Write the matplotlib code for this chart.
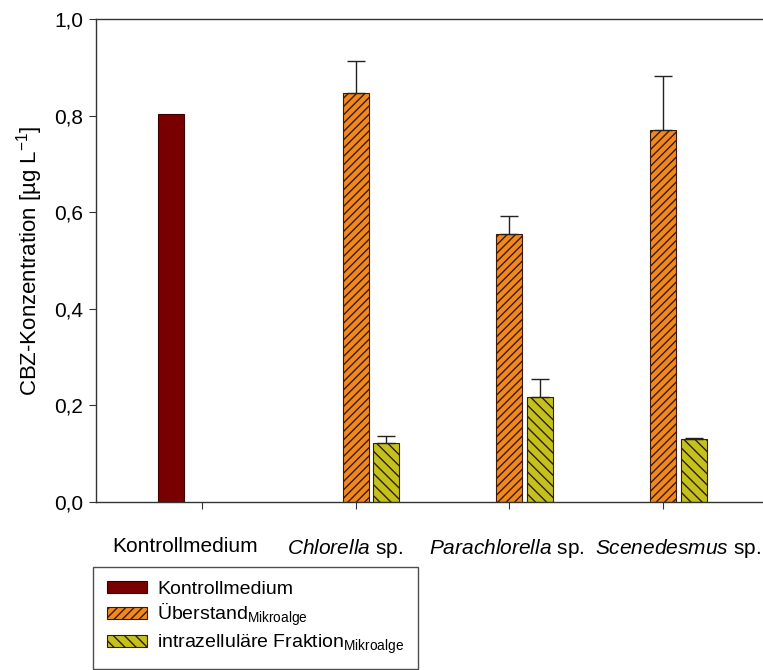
import matplotlib
matplotlib.use("Agg")
import matplotlib.pyplot as plt
import matplotlib.transforms as mtransforms
import numpy as np

plt.rcParams['font.family'] = ['Liberation Sans', 'DejaVu Sans']
plt.rcParams['mathtext.fontset'] = 'custom'
plt.rcParams['mathtext.rm'] = 'Liberation Sans'
plt.rcParams['mathtext.it'] = 'Liberation Sans:italic'
plt.rcParams['mathtext.bf'] = 'Liberation Sans:bold'
plt.rcParams['mathtext.default'] = 'regular'
plt.rcParams['hatch.linewidth'] = 1.0

categories = ["Kontrollmedium", "Chlorella", "Parachlorella", "Scenedesmus"]
kontroll = [0.803, np.nan, np.nan, np.nan]
ueberstand = [np.nan, 0.847, 0.554, 0.770]
ueberstand_err = [0, 0.066, 0.039, 0.113]
intra = [np.nan, 0.123, 0.217, 0.130]
intra_err = [0, 0.014, 0.037, 0.002]
yticks = [0.0, 0.2, 0.4, 0.6, 0.8, 1.0]
yticklabels = ["0,0", "0,2", "0,4", "0,6", "0,8", "1,0"]

W, H = 763, 670
fig = plt.figure(figsize=(W / 100, H / 100), dpi=100)
ax_left, ax_right, ax_top, ax_bot = 96, 769, 19, 502
ax = fig.add_axes([ax_left / W, 1 - ax_bot / H, (ax_right - ax_left) / W, (ax_bot - ax_top) / H])

x = np.arange(len(categories))
bw = 0.169
off = 0.2
edge = '#3a1a0a'

b1 = ax.bar(x - off, kontroll, bw, color='#780000', edgecolor='#3a0000', linewidth=0.8,
            label='Kontrollmedium')
b2 = ax.bar(x, ueberstand, bw, color='#F0881E', edgecolor=edge, hatch='////', linewidth=0.8,
            label='Überstand$_{Mikroalge}$')
b3 = ax.bar(x + off, intra, bw, color='#C2C21E', edgecolor=edge, hatch='\\\\\\', linewidth=0.8,
            label='intrazelluläre Fraktion$_{Mikroalge}$')

ue = np.array(ueberstand)
ie = np.array(intra)
m = ~np.isnan(ue)
ax.errorbar(x[m], ue[m], yerr=[np.zeros(m.sum()), np.array(ueberstand_err)[m]], fmt='none',
            ecolor='#222222', elinewidth=1.0, capsize=6.5, capthick=1.0)
m2 = ~np.isnan(ie)
ax.errorbar(x[m2] + off, ie[m2], yerr=[np.zeros(m2.sum()), np.array(intra_err)[m2]], fmt='none',
            ecolor='#222222', elinewidth=1.0, capsize=6.5, capthick=1.0)

ax.set_ylim(0, 1.0)
ax.set_xlim(-0.69, 3.69)
ax.set_yticks(yticks)
ax.set_yticklabels(yticklabels, fontsize=15)
ax.set_xticks(x)
xl = ["Kontrollmedium", "$\\it{Chlorella}$ sp.", "$\\it{Parachlorella}$ sp.", "$\\it{Scenedesmus}$ sp."]
ax.set_xticklabels(xl, fontsize=15)
ax.tick_params(axis='x', direction='out', length=5, pad=20, color='#333333')
ax.tick_params(axis='y', direction='out', length=5, pad=4, color='#333333')
# label placement as in the original (not exactly centred under ticks)
shifts_px = [-17, -11, -3, 15]
for lab, dx in zip(ax.get_xticklabels(), shifts_px):
    lab.set_transform(lab.get_transform() + mtransforms.ScaledTranslation(dx / 100, 0, fig.dpi_scale_trans))
for s in ['left', 'top', 'bottom']:
    ax.spines[s].set_color('#333333')
    ax.spines[s].set_linewidth(1.0)
ax.spines['right'].set_visible(False)
ax.set_ylabel('CBZ-Konzentration [µg L$^{-1}$]', fontsize=16, labelpad=7)

leg = fig.legend(handles=[b1, b2, b3], loc='upper left',
                 bbox_to_anchor=(93 / W, 1 - 567 / H), fontsize=14,
                 frameon=True, fancybox=False, edgecolor='#222222',
                 handlelength=2.1, handleheight=0.6, labelspacing=0.22,
                 borderpad=0.7, handletextpad=0.5, borderaxespad=0)
leg.get_frame().set_linewidth(1.0)

fig.savefig('out.png', dpi=100)
